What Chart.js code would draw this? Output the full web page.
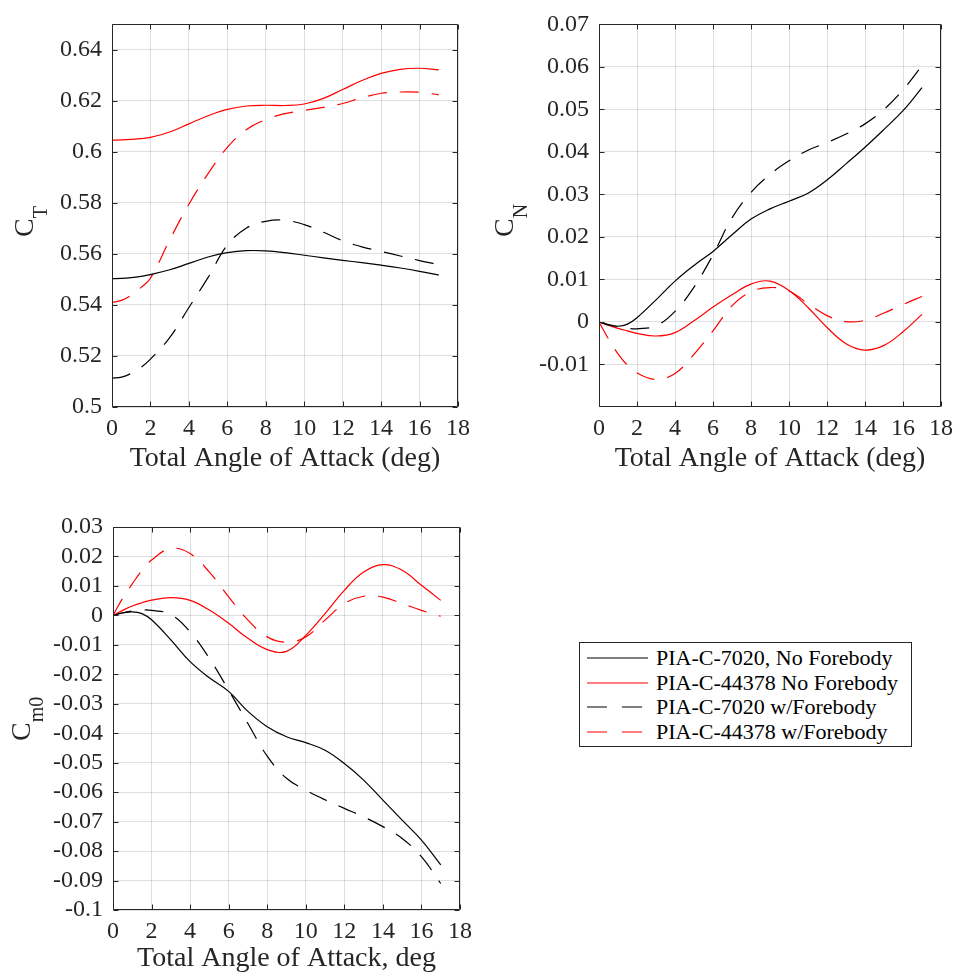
<!DOCTYPE html>
<html>
<head>
<meta charset="utf-8">
<script src="https://cdn.jsdelivr.net/npm/chart.js@4.4.1/dist/chart.umd.min.js"></script>
<style>
body { margin: 0; background: #fff; }
#wrap { position: relative; width: 960px; height: 972px; font-family: 'Liberation Serif', serif; }
#wrap canvas { position: absolute; }
#legend { position: absolute; left: 579px; top: 642px; width: 331px; height: 103px; border: 1px solid #262626; background: #fff; }
#legend .row { position: absolute; left: 0; height: 24px; display: flex; align-items: center; white-space: nowrap; }
#legend svg { margin-left: 7px; margin-right: 8px; }
#legend span { font-family: 'Liberation Serif', serif; font-size: 22px; color: #000; line-height: 24px; }
</style>
</head>
<body>
<div id="wrap">
  <canvas id="ctChart" width="480" height="480" style="left:0;top:0"></canvas>
  <canvas id="cnChart" width="480" height="480" style="left:480px;top:0"></canvas>
  <canvas id="cmChart" width="480" height="482" style="left:0;top:490px"></canvas>
  <div id="legend"></div>
</div>
<script>
// total angle of attack (deg)
const angles = [0, 0.5, 1, 1.5, 2, 3, 4, 5, 6, 7, 8, 9, 10, 11, 12, 13, 14, 15, 16, 17];

const seriesLabels = ['PIA-C-7020, No Forebody', 'PIA-C-44378 No Forebody', 'PIA-C-7020 w/Forebody', 'PIA-C-44378 w/Forebody'];

// thrust coefficient C_T
const ct7020 = [0.5503, 0.5504, 0.5507, 0.5512, 0.5519, 0.5538, 0.5563, 0.5588, 0.5605, 0.5613, 0.5612, 0.5605, 0.5595, 0.5585, 0.5575, 0.5566, 0.5556, 0.5545, 0.5532, 0.5517];
const ct44378 = [0.6046, 0.6047, 0.6049, 0.6052, 0.6057, 0.6078, 0.6110, 0.6142, 0.6167, 0.6180, 0.6183, 0.6182, 0.6188, 0.6210, 0.6245, 0.6280, 0.6308, 0.6324, 0.6328, 0.6322];
const ct7020Fb = [0.5113, 0.5117, 0.5132, 0.5155, 0.5188, 0.5272, 0.5390, 0.5508, 0.5635, 0.5702, 0.5728, 0.5732, 0.5715, 0.5685, 0.5652, 0.5628, 0.5610, 0.5592, 0.5574, 0.5558];
const ct44378Fb = [0.5410, 0.5418, 0.5438, 0.5468, 0.5505, 0.5655, 0.5795, 0.5915, 0.6018, 0.6088, 0.6127, 0.6150, 0.6163, 0.6175, 0.6190, 0.6212, 0.6230, 0.6235, 0.6234, 0.6224];

// normal force coefficient C_N
const cn7020 = [0, -0.0007, -0.0010, -0.0005, 0.0010, 0.0052, 0.0096, 0.0133, 0.0166, 0.0205, 0.0242, 0.0266, 0.0284, 0.0303, 0.0334, 0.0372, 0.0411, 0.0453, 0.0497, 0.0551];
const cn44378 = [0, -0.0008, -0.0015, -0.0021, -0.0027, -0.0033, -0.0025, 0.0003, 0.0035, 0.0064, 0.0089, 0.0096, 0.0074, 0.0034, -0.0013, -0.0051, -0.0066, -0.0055, -0.0023, 0.0018];
const cn7020Fb = [0, -0.0006, -0.0011, -0.0015, -0.0016, -0.0009, 0.0025, 0.0082, 0.0158, 0.0245, 0.0305, 0.0347, 0.0379, 0.0404, 0.0422, 0.0442, 0.0466, 0.0500, 0.0546, 0.0603];
const cn44378Fb = [0, -0.0040, -0.0075, -0.0102, -0.0120, -0.0135, -0.0121, -0.0076, -0.0021, 0.0038, 0.0071, 0.0081, 0.0073, 0.0043, 0.0015, 0.0001, 0.0004, 0.0021, 0.0041, 0.0060];

// pitching moment coefficient C_m0
const cm7020 = [0, 0.0008, 0.0012, 0.0006, -0.0015, -0.0083, -0.0157, -0.0212, -0.0258, -0.0326, -0.0378, -0.0412, -0.0432, -0.0458, -0.0503, -0.0559, -0.0627, -0.0695, -0.0763, -0.0847];
const cm44378 = [0, 0.0017, 0.0032, 0.0043, 0.0052, 0.0060, 0.0051, 0.0018, -0.0027, -0.0078, -0.0116, -0.0122, -0.0068, 0.0006, 0.0085, 0.0147, 0.0172, 0.0153, 0.0102, 0.0051];
const cm7020Fb = [0, 0.0009, 0.0015, 0.0018, 0.0017, 0.0003, -0.0056, -0.0146, -0.0254, -0.0367, -0.0478, -0.0553, -0.0593, -0.0626, -0.0655, -0.0684, -0.0717, -0.0757, -0.0819, -0.0910];
const cm44378Fb = [0, 0.0058, 0.0107, 0.0152, 0.0188, 0.0227, 0.0210, 0.0147, 0.0063, -0.0016, -0.0073, -0.0091, -0.0073, -0.0016, 0.0040, 0.0065, 0.0062, 0.0040, 0.0017, -0.0003];

// tick values
const xTicks = [0, 2, 4, 6, 8, 10, 12, 14, 16, 18];
const ctTicks = [0.5, 0.52, 0.54, 0.56, 0.58, 0.6, 0.62, 0.64];
const cnTicks = [-0.01, 0, 0.01, 0.02, 0.03, 0.04, 0.05, 0.06, 0.07];
const cmTicks = [-0.1, -0.09, -0.08, -0.07, -0.06, -0.05, -0.04, -0.03, -0.02, -0.01, 0, 0.01, 0.02, 0.03];

const lineStyles = [
    { color: '#000000', dash: [] },
    { color: '#ff0000', dash: [] },
    { color: '#000000', dash: [19, 13] },
    { color: '#ff0000', dash: [19, 13] }
];

const FONT = 'Liberation Serif';
const AXIS_COLOR = '#262626';
const GRID_COLOR = 'rgba(38,38,38,0.15)';

Chart.defaults.font.family = FONT;
Chart.defaults.font.size = 24;

// frame, inner tick marks and axis titles (MATLAB look)
const framePlugin = {
    id: 'frame',
    afterDraw(chart, args, o) {
        const ctx = chart.ctx;
        const a = chart.chartArea;
        const sx = chart.scales.x, sy = chart.scales.y;
        const L = Math.round(a.left) + 0.5, R = Math.round(a.right) - 0.5;
        const T = Math.round(a.top) + 0.5, B = Math.round(a.bottom) - 0.5;
        ctx.save();
        ctx.strokeStyle = AXIS_COLOR;
        ctx.lineWidth = 1;
        ctx.setLineDash([]);
        ctx.beginPath();
        ctx.rect(L, T, R - L, B - T);
        xTicks.forEach(v => {
            const px = Math.round(sx.getPixelForValue(v)) + 0.5;
            ctx.moveTo(px, B); ctx.lineTo(px, B - 5);
            ctx.moveTo(px, T); ctx.lineTo(px, T + 5);
        });
        sy.ticks.forEach(t => {
            const py = Math.round(sy.getPixelForValue(t.value)) + 0.5;
            ctx.moveTo(L, py); ctx.lineTo(L + 5, py);
            ctx.moveTo(R, py); ctx.lineTo(R - 5, py);
        });
        ctx.stroke();

        ctx.fillStyle = AXIS_COLOR;
        // x title
        ctx.font = '28px ' + FONT;
        ctx.textAlign = 'center';
        ctx.textBaseline = 'alphabetic';
        ctx.fillText(o.xTitle, (a.left + a.right) / 2, o.xTitleY);
        // y title with subscript
        ctx.translate(o.yBaseX, o.yBottom);
        ctx.rotate(-Math.PI / 2);
        ctx.textAlign = 'left';
        ctx.font = '28px ' + FONT;
        ctx.fillText(o.yMain, 0, 0);
        const w = ctx.measureText(o.yMain).width;
        ctx.font = '20px ' + FONT;
        ctx.fillText(o.ySub, w, o.subDrop);
        ctx.restore();
    }
};

function buildDatasets(seriesList) {
    return seriesList.map((vals, i) => ({
        label: seriesLabels[i],
        data: angles.map((x, k) => ({ x: x, y: vals[k] })),
        borderColor: lineStyles[i].color,
        borderDash: lineStyles[i].dash,
        borderWidth: 1.2,
        pointRadius: 0,
        fill: false,
        tension: 0.4
    }));
}

function buildOptions(yMin, yMax, yTicks, frame) {
    const tickFont = { family: FONT, size: 24 };
    return {
        responsive: false,
        animation: false,
        events: [],
        layout: { padding: frame.pad },
        plugins: {
            legend: { display: false },
            tooltip: { enabled: false },
            frame: frame
        },
        scales: {
            x: {
                type: 'linear',
                min: 0,
                max: 18,
                afterBuildTicks: s => { s.ticks = xTicks.map(v => ({ value: v })); },
                afterFit: s => { s.height = frame.xh; },
                grid: { color: GRID_COLOR, drawTicks: false },
                border: { display: false },
                ticks: { padding: 7, font: tickFont, color: AXIS_COLOR, maxRotation: 0, autoSkip: false,
                    callback: v => String(v) }
            },
            y: {
                type: 'linear',
                min: yMin,
                max: yMax,
                afterBuildTicks: s => { s.ticks = yTicks.map(v => ({ value: v })); },
                afterFit: s => { s.width = frame.yw; },
                grid: { color: GRID_COLOR, drawTicks: false },
                border: { display: false },
                ticks: { padding: 10, font: tickFont, color: AXIS_COLOR, autoSkip: false,
                    callback: v => String(v) }
            }
        }
    };
}

function makeChart(id, seriesList, yMin, yMax, yTicks, frame) {
    return new Chart(document.getElementById(id), {
        type: 'line',
        data: { datasets: buildDatasets(seriesList) },
        options: buildOptions(yMin, yMax, yTicks, frame),
        plugins: [framePlugin]
    });
}

function buildLegend() {
    const box = document.getElementById('legend');
    const rowCenters = [15, 39.5, 64, 88.5];
    seriesLabels.forEach((name, i) => {
        const row = document.createElement('div');
        row.className = 'row';
        row.style.top = (rowCenters[i] - 12) + 'px';
        const dash = lineStyles[i].dash.length ? 'stroke-dasharray="20 15"' : '';
        row.innerHTML = '<svg width="61" height="4"><line x1="0" y1="2" x2="61" y2="2" stroke="' +
            lineStyles[i].color + '" stroke-width="1.2" ' + dash + '/></svg><span>' + name + '</span>';
        box.appendChild(row);
    });
}

document.addEventListener('DOMContentLoaded', () => {
    makeChart('ctChart', [ct7020, ct44378, ct7020Fb, ct44378Fb], 0.5, 0.65, ctTicks, {
        pad: { left: 0, right: 22, top: 18, bottom: 0 }, yw: 112, xh: 73,
        xTitle: 'Total Angle of Attack (deg)', xTitleY: 466,
        yMain: 'C', ySub: 'T', yBaseX: 33, yBottom: 237, subDrop: 14
    });
    makeChart('cnChart', [cn7020, cn44378, cn7020Fb, cn44378Fb], -0.02, 0.07, cnTicks, {
        pad: { left: 0, right: 15, top: 18, bottom: 0 }, yw: 119, xh: 73,
        xTitle: 'Total Angle of Attack (deg)', xTitleY: 466,
        yMain: 'C', ySub: 'N', yBaseX: 33, yBottom: 237, subDrop: 14
    });
    makeChart('cmChart', [cm7020, cm44378, cm7020Fb, cm44378Fb], -0.1, 0.03, cmTicks, {
        pad: { left: 0, right: 20, top: 37, bottom: 0 }, yw: 113, xh: 62,
        xTitle: 'Total Angle of Attack, deg', xTitleY: 476,
        yMain: 'C', ySub: 'm0', yBaseX: 30, yBottom: 251, subDrop: 13
    });
    buildLegend();
});
</script>
</body>
</html>
